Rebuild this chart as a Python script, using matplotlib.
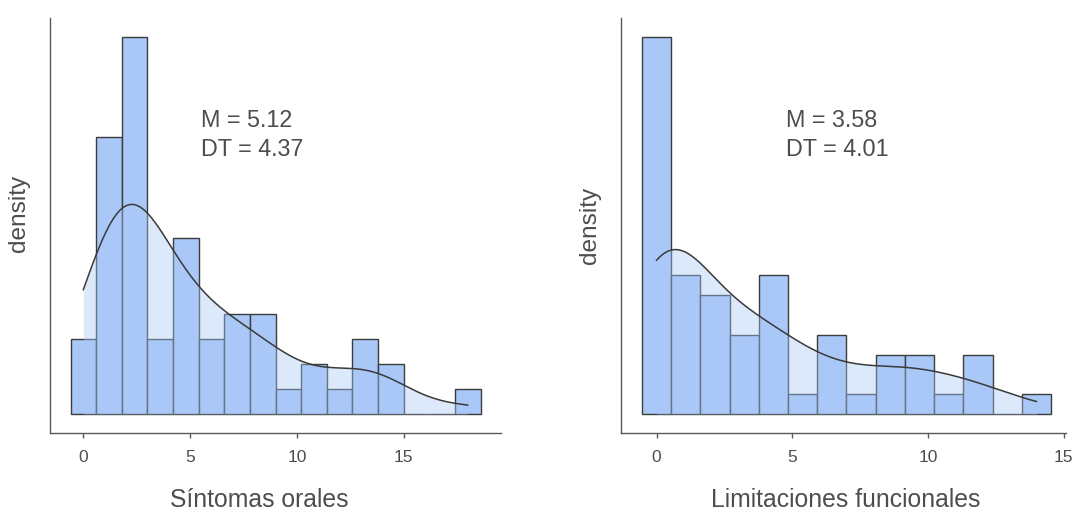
import numpy as np
import matplotlib.pyplot as plt

# histogram counts (n = 60 each)
oral_counts = [3, 11, 15, 3, 7, 3, 4, 4, 1, 2, 1, 3, 2, 0, 0, 1]
oral_min, oral_max = 0, 18
func_counts = [19, 7, 6, 4, 7, 1, 4, 1, 3, 3, 1, 3, 0, 1]
func_min, func_max = 0, 14

labels = ["Síntomas orales", "Limitaciones funcionales"]
means = [5.12, 3.58]
sds = [4.37, 4.01]
xticks = [0, 5, 10, 15]

BAR = "#a9c8f7"
EDGE = "#3c3c3c"
LINE = "#3a3a3a"
TXT = "#4d4d4d"
AX = "#5a5a5a"

plt.rcParams["font.family"] = ["Liberation Sans", "DejaVu Sans"]


def kde(x, grid, bw):
    z = (grid[:, None] - x[None, :]) / bw
    return np.exp(-0.5 * z ** 2).sum(axis=1) / (len(x) * bw * np.sqrt(2 * np.pi))


def draw_panel(ax, counts, lo, hi, mean, sd, bw):
    nb = len(counts)
    centers = np.linspace(lo, hi, nb)
    width = (hi - lo) / (nb - 1)
    edges = np.append(centers - width / 2, centers[-1] + width / 2)
    ax.hist(centers, bins=edges, weights=counts, density=True,
            color=BAR, edgecolor=EDGE, linewidth=1.0)
    values = np.repeat(centers, counts)
    grid = np.linspace(values.min(), values.max(), 512)
    dens = kde(values, grid, bw)
    ax.fill_between(grid, dens, color=BAR, alpha=0.4, linewidth=0)
    ax.plot(grid, dens, color=LINE, linewidth=1.1)

    top = max(counts) / (sum(counts) * width)
    ax.set_ylim(-0.05 * top, 1.05 * top)
    span = edges[-1] - edges[0]
    ax.set_xlim(edges[0] - 0.05 * span, edges[-1] + 0.05 * span)

    ax.set_xticks(xticks)
    ax.set_yticks([])
    ax.tick_params(axis="x", length=3.6, width=1.0, color=AX,
                   labelcolor=TXT, labelsize=12.5, pad=8.5)
    for s in ["top", "right"]:
        ax.spines[s].set_visible(False)
    for s in ["left", "bottom"]:
        ax.spines[s].set_color(AX)
        ax.spines[s].set_linewidth(1.0)
    ax.text(0, 0, "M = %.2f\nDT = %.2f" % (mean, sd), fontsize=16.8,
            color=TXT, ha="left", va="center", linespacing=1.34)
    return ax


W, H = 1078, 514
fig = plt.figure(figsize=(W / 100, H / 100), dpi=100)
ax1 = fig.add_axes([50 / W, 1 - 433 / H, 451 / W, 415 / H])
ax2 = fig.add_axes([621 / W, 1 - 433 / H, 445 / W, 415 / H])

draw_panel(ax1, oral_counts, oral_min, oral_max, means[0], sds[0], 1.75)
draw_panel(ax2, func_counts, func_min, func_max, means[1], sds[1], 1.5)
ax2.set_xlim(-1.31, 15.09)

# move annotations into place (axes fractions)
ax1.texts[0].set_transform(ax1.transAxes)
ax1.texts[0].set_position((0.335, 0.718))
ax2.texts[0].set_transform(ax2.transAxes)
ax2.texts[0].set_position((0.370, 0.718))

fig.text(259 / W, 1 - 500 / H, labels[0], fontsize=17.8, color=TXT, ha="center", va="center")
fig.text(846 / W, 1 - 500 / H, labels[1], fontsize=17.8, color=TXT, ha="center", va="center")
fig.text(19 / W, 1 - 213 / H, "density", fontsize=17.6, color=TXT, rotation=90, ha="center", va="center")
fig.text(590 / W, 1 - 225 / H, "density", fontsize=17.6, color=TXT, rotation=90, ha="center", va="center")

fig.savefig("out.png", dpi=100)
